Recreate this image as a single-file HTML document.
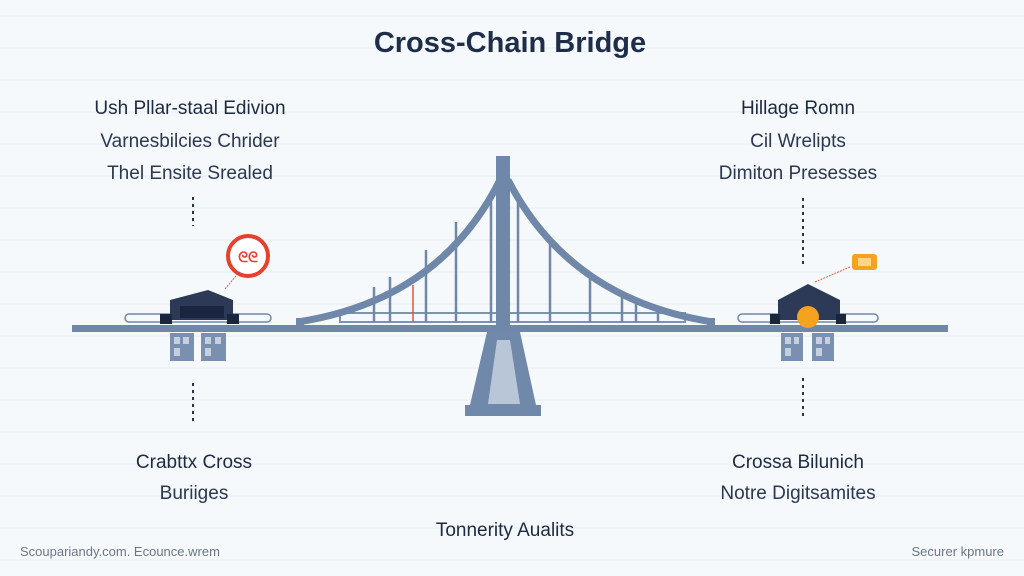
<!DOCTYPE html>
<html><head><meta charset="utf-8"><style>
html,body{margin:0;padding:0;background:#f6f9fc;}
svg{display:block}
text{font-family:"Liberation Sans",sans-serif;}
</style></head><body>
<svg width="1024" height="576" viewBox="0 0 1024 576" xmlns="http://www.w3.org/2000/svg">
<defs>
<pattern id="g" width="1024" height="32" patternUnits="userSpaceOnUse">
<line x1="0" y1="16" x2="1024" y2="16" stroke="#e6edf4" stroke-width="1"/>
</pattern>
</defs>
<rect width="1024" height="576" fill="#f6f9fc"/>
<rect width="1024" height="576" fill="url(#g)"/>

<text x="510" y="52" text-anchor="middle" font-size="29" font-weight="bold" fill="#1e2e4a">Cross-Chain Bridge</text>

<g font-size="19" fill="#1e2a40" text-anchor="middle">
<text x="190" y="114">Ush Pllar-staal Edivion</text>
<text x="190" y="147" fill="#2c3850">Varnesbilcies Chrider</text>
<text x="190" y="179" fill="#2c3850">Thel Ensite Srealed</text>
<text x="798" y="114">Hillage Romn</text>
<text x="798" y="147" fill="#2c3850">Cil Wrelipts</text>
<text x="798" y="179" fill="#2c3850">Dimiton Presesses</text>
<text x="194" y="468">Crabttx Cross</text>
<text x="194" y="499" fill="#2c3850">Buriiges</text>
<text x="798" y="468">Crossa Bilunich</text>
<text x="798" y="499" fill="#2c3850">Notre Digitsamites</text>
<text x="505" y="536">Tonnerity Aualits</text>
</g>
<text x="20" y="556" font-size="13" fill="#6a7688">Scoupariandy.com. Ecounce.wrem</text>
<text x="1004" y="556" font-size="13" fill="#6a7688" text-anchor="end">Securer kpmure</text>

<g stroke="#2a3448" stroke-width="2" stroke-dasharray="3,4">
<line x1="193" y1="197" x2="193" y2="226"/>
<line x1="193" y1="383" x2="193" y2="425"/>
<line x1="803" y1="198" x2="803" y2="266"/>
<line x1="803" y1="378" x2="803" y2="420"/>
</g>

<polygon points="487,332 520,332 536,405 541,405 541,416 465,416 465,405 470,405" fill="#7088aa"/>
<polygon points="497,340 510,340 520,404 488,404" fill="#b9c6d8"/>
<rect x="72" y="325" width="876" height="7" fill="#6f87a8"/>
<rect x="340" y="313" width="345" height="9" fill="none" stroke="#7d93b2" stroke-width="2"/>
<g stroke="#6f87a8" stroke-width="2.5">
<line x1="374" y1="322" x2="374" y2="287"/><line x1="390" y1="322" x2="390" y2="277"/>
<line x1="426" y1="322" x2="426" y2="250"/><line x1="456" y1="322" x2="456" y2="222"/>
<line x1="491" y1="322" x2="491" y2="200"/>
<line x1="518" y1="322" x2="518" y2="200"/><line x1="550" y1="322" x2="550" y2="240"/>
<line x1="590" y1="322" x2="590" y2="275"/><line x1="622" y1="322" x2="622" y2="295"/>
<line x1="636" y1="322" x2="636" y2="302"/><line x1="658" y1="322" x2="658" y2="310"/>
</g>
<line x1="413" y1="322" x2="413" y2="285" stroke="#e0553a" stroke-width="1.5"/>
<path d="M298,322 Q440,300 500,180" fill="none" stroke="#6f87a8" stroke-width="7"/>
<path d="M713,322 Q570,300 508,180" fill="none" stroke="#6f87a8" stroke-width="7"/>
<rect x="296" y="318" width="8" height="7" fill="#6f87a8"/>
<rect x="707" y="318" width="8" height="7" fill="#6f87a8"/>
<rect x="496" y="156" width="14" height="172" fill="#6f87a8"/>

<g>
<rect x="125" y="314" width="146" height="8" rx="4" fill="none" stroke="#6f87a8" stroke-width="1.5"/>
<polygon points="170,300 208,290 233,300 233,320 170,320" fill="#2c3a58"/>
<rect x="180" y="306" width="44" height="12" fill="#1a2640"/>
<rect x="160" y="314" width="12" height="10" fill="#1a2640"/>
<rect x="227" y="314" width="12" height="10" fill="#1a2640"/>
<rect x="170" y="333" width="24" height="28" fill="#7b90ae"/>
<rect x="201" y="333" width="25" height="28" fill="#7b90ae"/>
<g fill="#c4d0e0"><rect x="174" y="337" width="6" height="7"/><rect x="183" y="337" width="6" height="7"/><rect x="205" y="337" width="6" height="7"/><rect x="215" y="337" width="6" height="7"/><rect x="174" y="348" width="6" height="8"/><rect x="205" y="348" width="6" height="8"/></g>
<line x1="225" y1="289" x2="236" y2="276" stroke="#e05a44" stroke-width="1" stroke-dasharray="2,1"/>
<circle cx="248" cy="256" r="20" fill="#fff" stroke="#e5412e" stroke-width="4"/>
<text x="248" y="262" text-anchor="middle" font-size="14" font-weight="bold" fill="#e5412e">ᘓᘓ</text>
</g>

<g>
<rect x="738" y="314" width="140" height="8" rx="4" fill="none" stroke="#6f87a8" stroke-width="1.5"/>
<polygon points="778,300 808,284 840,300 840,320 778,320" fill="#2c3a58"/>
<circle cx="808" cy="317" r="11" fill="#f5a21e"/>
<rect x="770" y="314" width="10" height="10" fill="#1a2640"/>
<rect x="836" y="314" width="10" height="10" fill="#1a2640"/>
<rect x="781" y="333" width="22" height="28" fill="#7b90ae"/>
<rect x="812" y="333" width="22" height="28" fill="#7b90ae"/>
<g fill="#c4d0e0"><rect x="785" y="337" width="6" height="7"/><rect x="794" y="337" width="5" height="7"/><rect x="816" y="337" width="6" height="7"/><rect x="825" y="337" width="5" height="7"/><rect x="785" y="348" width="6" height="8"/><rect x="816" y="348" width="6" height="8"/></g>
<line x1="815" y1="282" x2="850" y2="267" stroke="#e05a44" stroke-width="1" stroke-dasharray="2,1"/>
<rect x="852" y="254" width="25" height="16" rx="3" fill="#f5a21e"/>
<rect x="858" y="258" width="13" height="8" fill="#fbd58a"/>
</g>
</svg>
</body></html>
